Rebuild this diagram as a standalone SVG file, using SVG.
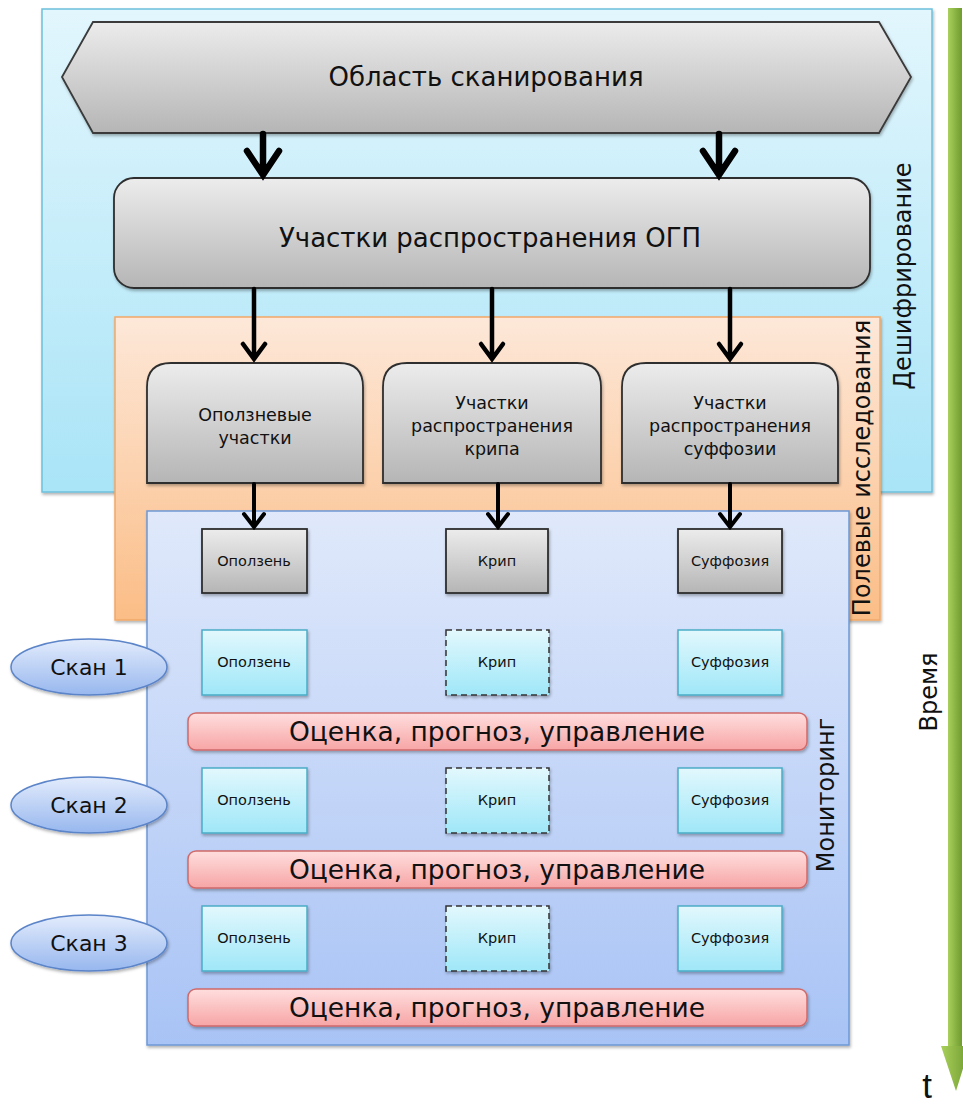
<svg xmlns="http://www.w3.org/2000/svg" width="963" height="1104" viewBox="0 0 963 1104">
<style>
text{font-family:"DejaVu Sans","Liberation Sans",sans-serif;fill:#111;text-anchor:middle}
.gbox{fill:url(#gGray);stroke:#2e2e2e;stroke-width:1.8;filter:url(#sh)}
.cbox{fill:url(#gCyan);stroke:#4aacc6;stroke-width:1.5;filter:url(#sh)}
.cdash{fill:url(#gCyan);stroke:#333;stroke-width:1.5;stroke-dasharray:6 4;filter:url(#sh)}
.rbar{fill:url(#gRed);stroke:#d06a6a;stroke-width:1.5;filter:url(#sh)}
.scan{fill:url(#gScan);stroke:#5b84c8;stroke-width:1.5;filter:url(#sh)}
.big{font-size:26px}
.mid{font-size:17.5px}
.sm{font-size:14.5px}
.bar{font-size:26.5px}
.vert{font-size:24px}
.sc{font-size:22px}
.arrow{fill:none;stroke:#000;stroke-linecap:round;stroke-linejoin:miter}
</style>
<defs>
<linearGradient id="gBlue" x1="0" y1="0" x2="0" y2="1"><stop offset="0" stop-color="#e2f6fd"/><stop offset="1" stop-color="#a9e4f7"/></linearGradient>
<linearGradient id="gOrange" x1="0" y1="0" x2="0" y2="1"><stop offset="0" stop-color="#fde8d9"/><stop offset="1" stop-color="#fbbd86"/></linearGradient>
<linearGradient id="gMon" x1="0" y1="0" x2="0" y2="1"><stop offset="0" stop-color="#e0e9fb"/><stop offset="1" stop-color="#a8c3f5"/></linearGradient>
<linearGradient id="gGray" x1="0" y1="0" x2="0" y2="1"><stop offset="0" stop-color="#ececec"/><stop offset="1" stop-color="#b5b5b5"/></linearGradient>
<linearGradient id="gCyan" x1="0" y1="0" x2="0" y2="1"><stop offset="0" stop-color="#e2f8fd"/><stop offset="1" stop-color="#9fe7f8"/></linearGradient>
<linearGradient id="gRed" x1="0" y1="0" x2="0" y2="1"><stop offset="0" stop-color="#ffdede"/><stop offset="1" stop-color="#f7a5a5"/></linearGradient>
<linearGradient id="gScan" x1="0" y1="0" x2="0" y2="1"><stop offset="0" stop-color="#e3ecfc"/><stop offset="1" stop-color="#97b7ee"/></linearGradient>
<linearGradient id="gGreen" x1="0" y1="0" x2="1" y2="0"><stop offset="0" stop-color="#a9d05c"/><stop offset="1" stop-color="#6f9b2f"/></linearGradient>
<filter id="sh" x="-10%" y="-10%" width="120%" height="130%"><feDropShadow dx="1" dy="2" stdDeviation="1.5" flood-color="#000" flood-opacity="0.3"/></filter>
</defs>

<g id="time-axis">
<rect x="948" y="8" width="14" height="1040" fill="url(#gGreen)"/>
<polygon points="941,1046 970,1046 956,1091" fill="url(#gGreen)"/>
<text x="929" y="692" class="vert" transform="rotate(-90 929 692)" dy="8">Время</text>
<text x="927" y="1098" style="font-size:35px;font-family:'Liberation Sans',sans-serif">t</text>
</g>

<g id="panel-decipher">
<rect x="42" y="9" width="890" height="483" fill="url(#gBlue)" stroke="#6cc0dc" stroke-width="1.5" filter="url(#sh)"/>
<text x="903" y="276" class="vert" transform="rotate(-90 903 276)" dy="8">Дешифрирование</text>
</g>

<g id="scan-area">
<polygon points="62,77 93,22 879,22 911,77 879,133 93,133" fill="url(#gGray)" stroke="#3a3a3a" stroke-width="1.8" filter="url(#sh)"/>
<text x="486" y="86" class="big">Область сканирования</text>
</g>

<g id="ogp-areas">
<rect x="114" y="178" width="756" height="110" rx="20" class="gbox"/>
<text x="490" y="247" class="big">Участки распространения ОГП</text>
</g>

<g id="panel-field">
<rect x="115" y="317" width="765" height="303" fill="url(#gOrange)" stroke="#f2a868" stroke-width="1.5" filter="url(#sh)"/>
<text x="862" y="468" class="vert" transform="rotate(-90 862 468)" dy="8">Полевые исследования</text>
</g>

<g id="landslide-areas">
<path d="M147,483 V387 Q147,363 171,363 H339 Q363,363 363,387 V483 Z" class="gbox"/>
<text x="255" y="421" class="mid">Оползневые</text>
<text x="255" y="444" class="mid">участки</text>
</g>
<g id="creep-areas">
<path d="M383,483 V387 Q383,363 407,363 H577 Q601,363 601,387 V483 Z" class="gbox"/>
<text x="492" y="409" class="mid">Участки</text>
<text x="492" y="432" class="mid">распространения</text>
<text x="492" y="455" class="mid">крипа</text>
</g>
<g id="suffosion-areas">
<path d="M622,483 V387 Q622,363 646,363 H814 Q838,363 838,387 V483 Z" class="gbox"/>
<text x="730" y="409" class="mid">Участки</text>
<text x="730" y="432" class="mid">распространения</text>
<text x="730" y="455" class="mid">суффозии</text>
</g>

<g id="panel-monitoring">
<rect x="147" y="511" width="702" height="534" fill="url(#gMon)" stroke="#6d98d6" stroke-width="1.5" filter="url(#sh)"/>
<text x="826" y="795" class="vert" transform="rotate(-90 826 795)" dy="8">Мониторинг</text>
</g>

<g id="landslide">
<rect x="202" y="529" width="105" height="64" class="gbox"/>
<text x="254" y="566" class="sm">Оползень</text>
</g>
<g id="creep">
<rect x="446" y="529" width="102" height="64" class="gbox"/>
<text x="497" y="566" class="sm">Крип</text>
</g>
<g id="suffosion">
<rect x="678" y="529" width="104" height="64" class="gbox"/>
<text x="730" y="566" class="sm">Суффозия</text>
</g>

<g id="scan1">
<ellipse cx="89" cy="667" rx="78" ry="28" class="scan"/>
<text x="89" y="675" class="sc">Скан 1</text>
</g>
<g id="scan1-landslide"><rect x="202" y="630" width="105" height="65" class="cbox"/><text x="254" y="667" class="sm">Оползень</text></g>
<g id="scan1-creep"><rect x="446" y="630" width="103" height="65" class="cdash"/><text x="497" y="667" class="sm">Крип</text></g>
<g id="scan1-suffosion"><rect x="678" y="630" width="104" height="65" class="cbox"/><text x="730" y="667" class="sm">Суффозия</text></g>
<g id="assess1"><rect x="188" y="713" width="619" height="37" rx="8" class="rbar"/><text x="497" y="741" class="bar">Оценка, прогноз, управление</text></g>

<g id="scan2">
<ellipse cx="89" cy="805" rx="78" ry="28" class="scan"/>
<text x="89" y="813" class="sc">Скан 2</text>
</g>
<g id="scan2-landslide"><rect x="202" y="768" width="105" height="65" class="cbox"/><text x="254" y="805" class="sm">Оползень</text></g>
<g id="scan2-creep"><rect x="446" y="768" width="103" height="65" class="cdash"/><text x="497" y="805" class="sm">Крип</text></g>
<g id="scan2-suffosion"><rect x="678" y="768" width="104" height="65" class="cbox"/><text x="730" y="805" class="sm">Суффозия</text></g>
<g id="assess2"><rect x="188" y="851" width="619" height="37" rx="8" class="rbar"/><text x="497" y="879" class="bar">Оценка, прогноз, управление</text></g>

<g id="scan3">
<ellipse cx="89" cy="943" rx="78" ry="28" class="scan"/>
<text x="89" y="951" class="sc">Скан 3</text>
</g>
<g id="scan3-landslide"><rect x="202" y="906" width="105" height="65" class="cbox"/><text x="254" y="943" class="sm">Оползень</text></g>
<g id="scan3-creep"><rect x="446" y="906" width="103" height="65" class="cdash"/><text x="497" y="943" class="sm">Крип</text></g>
<g id="scan3-suffosion"><rect x="678" y="906" width="104" height="65" class="cbox"/><text x="730" y="943" class="sm">Суффозия</text></g>
<g id="assess3"><rect x="188" y="989" width="619" height="37" rx="8" class="rbar"/><text x="497" y="1017" class="bar">Оценка, прогноз, управление</text></g>

<g id="connectors">
<path class="arrow" stroke-width="6.5" d="M263,134 V174 M247,151 L263,175 L279,151"/>
<path class="arrow" stroke-width="6.5" d="M719,134 V174 M703,151 L719,175 L735,151"/>
<path class="arrow" stroke-width="4.5" d="M254,289 V357 M243,344 L254,359 L265,344"/>
<path class="arrow" stroke-width="4.5" d="M492,289 V357 M481,344 L492,359 L503,344"/>
<path class="arrow" stroke-width="4.5" d="M730,289 V357 M719,344 L730,359 L741,344"/>
<path class="arrow" stroke-width="4" d="M254,484 V525 M244,514 L254,527 L264,514"/>
<path class="arrow" stroke-width="4" d="M498,484 V525 M488,514 L498,527 L508,514"/>
<path class="arrow" stroke-width="4" d="M730,484 V525 M720,514 L730,527 L740,514"/>
</g>
</svg>
